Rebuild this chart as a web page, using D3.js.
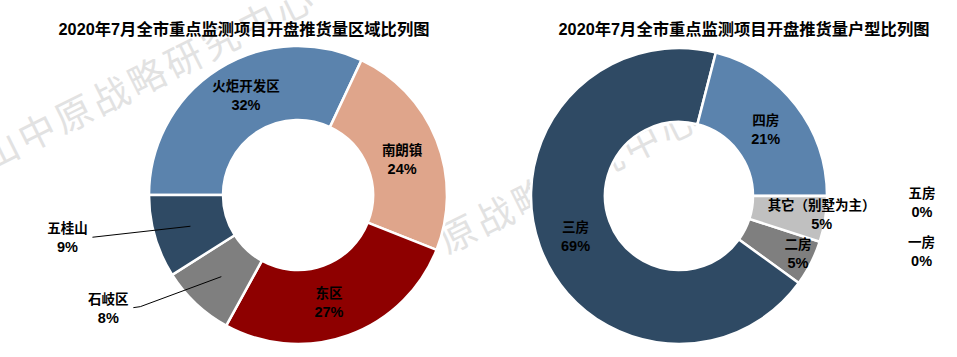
<!DOCTYPE html>
<html><head><meta charset="utf-8">
<script src="https://cdn.jsdelivr.net/npm/d3@7"></script>
<style>
html,body{margin:0;padding:0;background:#fff;}
text{font-family:"Liberation Sans",Arial,"Noto Sans CJK SC",sans-serif;}
</style></head>
<body>
<svg id="chart" width="957" height="357"></svg>
<script>
// ---- data ----
const leftTitle = "2020年7月全市重点监测项目开盘推货量区域比列图";
const rightTitle = "2020年7月全市重点监测项目开盘推货量户型比列图";
const regionNames = ["火炬开发区", "南朗镇", "东区", "石岐区", "五桂山"];
const regionValues = [32, 24, 27, 8, 9];
const typeNames = ["一房", "二房", "三房", "四房", "五房", "其它（别墅为主）"];
const typeValues = [0, 5, 69, 21, 0, 5];
const watermarkText = "中山中原战略研究中心";

// ---- styles / layout ----
const regionColors = ["#5B83AD", "#DFA58B", "#8E0000", "#7F7F7F", "#2F4A64"];
const typeColors = ["#A5A5A5", "#7F7F7F", "#2F4A64", "#5B83AD", "#999999", "#C0C0C0"];
const leftCfg = {cx: 298, cy: 195, r: 149, ir: 75, start: 270, titleX: 244};
const rightCfg = {cx: 679, cy: 196, r: 148, ir: 74, start: 108, titleX: 744};
// label offsets relative to slice centroid (text block centre), and outside leaders
const regionLabelOffsets = [[8, -4], [0, 6], [-7, 3], [-113, 32], [-123, 12]];
const regionLeader = [false, false, false, true, true];
const typeLabelOffsets = [[137, 21.5], [20, 8], [1, 3], [-1, 2], [132, 7], [33, 2]];

const svg = d3.select("#chart");
const deg = Math.PI / 180;

// watermark (behind)
const wm = svg.append("g");
[[-54, 175], [330, 295]].forEach(([x, y]) => {
  wm.append("text").attr("transform", `translate(${x},${y}) rotate(-26.5)`)
    .attr("dominant-baseline", "central")
    .attr("font-size", 37).attr("letter-spacing", 4)
    .attr("fill", "#e2e2e2")
    .style("font-family", "'Noto Sans CJK SC',sans-serif")
    .text(watermarkText);
});

function donut(cfg, names, values, colors, offsets, leaders, title) {
  const g = svg.append("g").attr("transform", `translate(${cfg.cx},${cfg.cy})`);
  const pie = d3.pie().sort(null).value(d => d)
    .startAngle(cfg.start * deg).endAngle((cfg.start + 360) * deg);
  const arcs = pie(values);
  const arc = d3.arc().innerRadius(cfg.ir).outerRadius(cfg.r);
  g.selectAll("path.slice").data(arcs).enter().append("path")
    .attr("class", "slice")
    .attr("d", arc)
    .attr("fill", (d, i) => colors[i])
    .attr("stroke", "#fff").attr("stroke-width", 2.5)
    .attr("stroke-linejoin", "miter");

  arcs.forEach((a, i) => {
    const [cx, cy] = arc.centroid(a);
    const tx = cx + offsets[i][0], ty = cy + offsets[i][1];
    if (leaders && leaders[i]) {
      const lx = tx + 25, ly = ty - 1;
      const pts = i === 3 ? [[lx, ly], [lx + 7, ly - 1], [cx, cy]] : [[lx, ly], [cx, cy]];
      g.append("path").attr("d", d3.line()(pts))
        .attr("fill", "none").attr("stroke", "#000").attr("stroke-width", 1);
    }
    const t = g.append("text").attr("text-anchor", "middle")
      .attr("font-weight", "bold").attr("fill", "#000");
    t.append("tspan").attr("x", tx).attr("y", ty - 5).attr("font-size", 13.5).text(names[i]);
    t.append("tspan").attr("x", tx).attr("y", ty + 14).attr("font-size", 14.5).text(values[i] + "%");
  });

  svg.append("text").attr("x", cfg.titleX).attr("y", 35)
    .attr("text-anchor", "middle").attr("font-size", 16.3).attr("font-weight", "bold")
    .attr("fill", "#000").text(title);
}

donut(leftCfg, regionNames, regionValues, regionColors, regionLabelOffsets, regionLeader, leftTitle);
donut(rightCfg, typeNames, typeValues, typeColors, typeLabelOffsets, null, rightTitle);
</script>
</body></html>
